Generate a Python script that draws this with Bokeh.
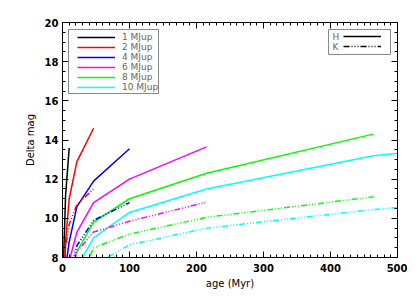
from bokeh.plotting import figure
from bokeh.models import (Range1d, LinearAxis, SingleIntervalTicker, Legend,
                          LegendItem, BoxAnnotation, Label, CustomJSTickFormatter)
from bokeh.embed import file_html
from bokeh.resources import INLINE

# ---------------- data ----------------
mass_labels = ["1 MJup", "2 MJup", "4 MJup", "6 MJup", "8 MJup", "10 MJup"]
colors = ["#000000", "#ff0000", "#0000ff", "#ff00ff", "#00ff00", "#00ffff"]

# H band tracks (age in Myr, Delta mag)
h1_age = [1, 2.15, 4.64, 10]
h1_mag = [6.0, 8.5, 11.2, 13.6]
h2_age = [2.15, 4.64, 10, 21.5, 46.4]
h2_mag = [6.5, 8.8, 11.0, 12.9, 14.6]
h4_age = [4.64, 10, 21.5, 46.4, 100]
h4_mag = [7.5, 8.8, 10.6, 11.9, 13.55]
h6_age = [10, 21.5, 46.4, 100, 215]
h6_mag = [7.8, 9.3, 10.8, 12.0, 13.65]
h8_age = [10, 21.5, 46.4, 100, 215, 464]
h8_mag = [6.9, 8.3, 9.8, 11.0, 12.3, 14.3]
h10_age = [21.5, 46.4, 100, 215, 464, 1000]
h10_mag = [7.5, 9.0, 10.3, 11.5, 13.2, 15.0]

# K band tracks
k2_age = [2.15, 4.64, 10, 21.5, 46.4]
k2_mag = [7.0, 8.5, 9.7, 10.7, 11.5]
k4_age = [4.64, 10, 21.5, 46.4, 100]
k4_mag = [6.0, 7.2, 8.6, 9.9, 10.8]
k6_age = [10, 21.5, 46.4, 100, 215]
k6_mag = [7.0, 8.3, 9.3, 9.85, 10.83]
k8_age = [21.5, 46.4, 100, 215, 464]
k8_mag = [6.5, 8.5, 9.2, 10.05, 11.1]
k10_age = [46.4, 100, 215, 464, 1000]
k10_mag = [7.6, 8.65, 9.5, 10.45, 11.9]

h_tracks = [(h1_age, h1_mag), (h2_age, h2_mag), (h4_age, h4_mag),
            (h6_age, h6_mag), (h8_age, h8_mag), (h10_age, h10_mag)]
k_tracks = [None, (k2_age, k2_mag), (k4_age, k4_mag),
            (k6_age, k6_mag), (k8_age, k8_mag), (k10_age, k10_mag)]

band_labels = ["H", "K"]

x_ticks_interval = 100
y_ticks_interval = 2

# ---------------- figure ----------------
FONT = "DejaVu Sans"
K_DASH = "6 2 1 2 1 2 1 2"

p = figure(frame_width=335, frame_height=235,
           x_range=Range1d(0, 500), y_range=Range1d(8, 20),
           output_backend="svg", toolbar_location=None,
           min_border_left=62, min_border_right=10,
           min_border_top=22, min_border_bottom=32)
p.background_fill_color = "white"
p.border_fill_color = "white"
p.outline_line_color = "black"
p.outline_line_width = 1
p.xgrid.visible = False
p.ygrid.visible = False


def style_axis(ax, labels=True):
    ax.axis_line_color = "black"
    ax.major_tick_line_color = "black"
    ax.minor_tick_line_color = "black"
    ax.major_tick_in = 6
    ax.major_tick_out = 0
    ax.minor_tick_in = 3
    ax.minor_tick_out = 0
    if labels:
        ax.major_label_text_font = FONT
        ax.major_label_text_font_style = "bold"
        ax.major_label_text_font_size = "10px"
        ax.major_label_text_color = "black"
        ax.axis_label_text_font = FONT
        ax.axis_label_text_font_style = "normal"
        ax.axis_label_text_font_size = "10px"
        ax.axis_label_text_color = "black"
    else:
        ax.formatter = CustomJSTickFormatter(code="return ''")
        ax.major_label_text_font_size = "10px"
        ax.major_label_standoff = 0


xa = p.xaxis[0]
xa.ticker = SingleIntervalTicker(interval=x_ticks_interval, num_minor_ticks=10)
style_axis(xa)
xa.axis_label = "age (Myr)"
xa.major_label_standoff = 6
xa.axis_label_standoff = 3

ya = p.yaxis[0]
ya.ticker = SingleIntervalTicker(interval=y_ticks_interval, num_minor_ticks=4)
style_axis(ya)
ya.axis_label = "Delta mag"
ya.major_label_standoff = 4
ya.axis_label_standoff = 6

top = LinearAxis(ticker=SingleIntervalTicker(interval=x_ticks_interval, num_minor_ticks=10))
style_axis(top, labels=False)
p.add_layout(top, "above")
right = LinearAxis(ticker=SingleIntervalTicker(interval=y_ticks_interval, num_minor_ticks=4))
style_axis(right, labels=False)
p.add_layout(right, "right")

# ---------------- tracks ----------------
h_renderers = []
for (ages, mags), c in zip(h_tracks, colors):
    r = p.line(ages, mags, line_color=c, line_width=1.5)
    h_renderers.append(r)
for trk, c in zip(k_tracks, colors):
    if trk is None:
        continue
    p.line(trk[0], trk[1], line_color=c, line_width=1.5, line_dash=K_DASH)

# legend proxies for the band styles (single NaN point: draws nothing)
nan = float("nan")
rH = p.line([nan], [nan], line_color="black", line_width=1.5)
rK = p.line([nan], [nan], line_color="black", line_width=1.5, line_dash=K_DASH)

# ---------------- legends ----------------
box1 = BoxAnnotation(left=6, right=96, top=228, bottom=164,
                     left_units="screen", right_units="screen",
                     top_units="screen", bottom_units="screen",
                     fill_alpha=0, line_color="#888888", line_alpha=1, line_width=1)
box2 = BoxAnnotation(left=266, right=328, top=228, bottom=203,
                     left_units="screen", right_units="screen",
                     top_units="screen", bottom_units="screen",
                     fill_alpha=0, line_color="#888888", line_alpha=1, line_width=1)
p.add_layout(box1)
p.add_layout(box2)

leg1 = Legend(items=[LegendItem(label=l, renderers=[r]) for l, r in zip(mass_labels, h_renderers)],
              location=(15, 165), orientation="vertical",
              glyph_width=38, glyph_height=10, label_height=10, label_width=20,
              label_standoff=7, spacing=0, padding=0, margin=0,
              label_text_font=FONT, label_text_font_size="9px",
              label_text_color="#666666",
              border_line_alpha=0, background_fill_alpha=0)
p.add_layout(leg1)

leg2 = Legend(items=[LegendItem(label=" ", renderers=[rH]), LegendItem(label=" ", renderers=[rK])],
              location=(281, 206), orientation="vertical",
              glyph_width=38, glyph_height=10, label_height=10, label_width=0,
              label_standoff=0, spacing=0, padding=0, margin=0,
              label_text_font=FONT, label_text_font_size="9px",
              border_line_alpha=0, background_fill_alpha=0)
p.add_layout(leg2)

for txt, yy in zip(band_labels, [221, 211]):
    p.add_layout(Label(x=270, y=yy, x_units="screen", y_units="screen", text=txt,
                       text_font=FONT, text_font_size="9px", text_color="#666666",
                       text_baseline="middle", text_align="left"))

open("out.html", "w").write(file_html(p, INLINE))
